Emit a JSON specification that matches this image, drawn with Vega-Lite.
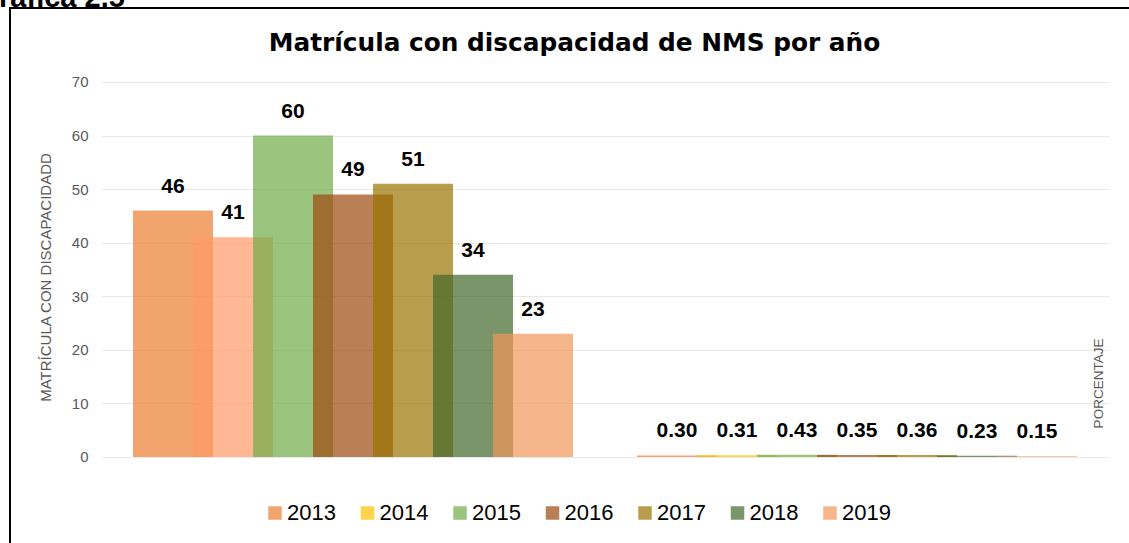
{
  "$schema": "https://vega.github.io/schema/vega-lite/v6.json",
  "width": 1129,
  "height": 545,
  "autosize": {"type": "none"},
  "padding": {"left": 10, "top": 8, "right": -10, "bottom": -10},
  "background": "white",
  "config": {
    "view": {"stroke": "black", "strokeWidth": 2, "fill": "white"},
    "font": "Liberation Sans"
  },
  "title": {
    "text": "Matrícula con discapacidad de NMS por año",
    "font": "DejaVu Sans",
    "fontSize": 24.8,
    "fontWeight": "bold",
    "color": "black",
    "anchor": "middle",
    "offset": -73
  },
  "data": {
    "values": [
      {"group": "Matrícula", "year": "2013", "value": 46},
      {"group": "Matrícula", "year": "2014", "value": 41},
      {"group": "Matrícula", "year": "2015", "value": 60},
      {"group": "Matrícula", "year": "2016", "value": 49},
      {"group": "Matrícula", "year": "2017", "value": 51},
      {"group": "Matrícula", "year": "2018", "value": 34},
      {"group": "Matrícula", "year": "2019", "value": 23},
      {"group": "Porcentaje", "year": "2013", "value": 0.30},
      {"group": "Porcentaje", "year": "2014", "value": 0.31},
      {"group": "Porcentaje", "year": "2015", "value": 0.43},
      {"group": "Porcentaje", "year": "2016", "value": 0.35},
      {"group": "Porcentaje", "year": "2017", "value": 0.36},
      {"group": "Porcentaje", "year": "2018", "value": 0.23},
      {"group": "Porcentaje", "year": "2019", "value": 0.15}
    ]
  },
  "encoding": {
    "x": {
      "field": "group",
      "type": "nominal",
      "scale": {"domain": ["Matrícula", "Porcentaje"], "range": [91, 1099], "paddingInner": 0, "paddingOuter": 0},
      "axis": {
        "orient": "top",
        "labels": false,
        "ticks": false,
        "domain": false,
        "grid": false,
        "title": "Gráfica 2.5",
        "titleFont": "Liberation Sans",
        "titleFontSize": 29,
        "titleFontWeight": "bold",
        "titleColor": "black",
        "titleAnchor": "start",
        "titleAlign": "left",
        "titleAngle": 0,
        "titleBaseline": "alphabetic",
        "titleX": -34,
        "titleY": -2
      }
    },
    "xOffset": {
      "field": "year",
      "type": "nominal",
      "scale": {"domain": ["2013", "2014", "2015", "2016", "2017", "2018", "2019"], "paddingInner": 0, "paddingOuter": 0.7}
    }
  },
  "layer": [
    {
      "mark": {"type": "bar", "width": 80, "opacity": 0.7},
      "encoding": {
        "y": {
          "field": "value",
          "type": "quantitative",
          "stack": null,
          "scale": {"domain": [-17.92, 83.813], "nice": false, "zero": false},
          "axis": {
            "orient": "left",
            "values": [0, 10, 20, 30, 40, 50, 60, 70],
            "offset": -90,
            "ticks": false,
            "domain": false,
            "grid": true,
            "gridColor": "#E8E8E8",
            "gridWidth": 1,
            "labelFont": "Liberation Sans",
            "labelFontSize": 15,
            "labelColor": "#595959",
            "labelPadding": 12,
            "title": "MATRÍCULA CON DISCAPACIDADD",
            "titleFont": "Liberation Sans",
            "titleFontSize": 15,
            "titleFontWeight": "normal",
            "titleColor": "#595959",
            "titleX": -47,
            "titleY": 269
          }
        },
        "color": {
          "condition": {"test": "datum.group === 'Matrícula' && datum.year === '2014'", "value": "#FF9966"},
          "field": "year",
          "type": "nominal",
          "scale": {
            "domain": ["2013", "2014", "2015", "2016", "2017", "2018", "2019"],
            "range": ["#ED7D31", "#FFC000", "#70AD47", "#9E480E", "#997300", "#43682B", "#F1975A"]
          },
          "legend": {
            "orient": "none",
            "legendX": 254,
            "legendY": 494,
            "direction": "horizontal",
            "columns": 7,
            "title": null,
            "symbolType": "square",
            "symbolSize": 182,
            "symbolOpacity": 0.7,
            "symbolStrokeWidth": 0,
            "labelFont": "Liberation Sans",
            "labelFontSize": 22,
            "labelColor": "black",
            "labelOffset": 1,
            "columnPadding": 20.5
          }
        }
      }
    },
    {
      "transform": [{"filter": "datum.group === 'Matrícula'"}],
      "mark": {"type": "text", "font": "Liberation Sans", "fontSize": 21, "fontWeight": "bold", "color": "black", "baseline": "middle", "dy": -24},
      "encoding": {
        "y": {
          "field": "value",
          "type": "quantitative",
          "stack": null,
          "scale": {"domain": [-17.92, 83.813], "nice": false, "zero": false},
          "axis": {
            "orient": "right",
            "labels": false,
            "ticks": false,
            "domain": false,
            "grid": false,
            "title": "PORCENTAJE",
            "titleFont": "Liberation Sans",
            "titleFontSize": 13.5,
            "titleFontWeight": "normal",
            "titleColor": "#595959",
            "titleAngle": 270,
            "titleAlign": "center",
            "titleBaseline": "middle",
            "titleX": -41,
            "titleY": 375
          }
        },
        "text": {"field": "value", "type": "quantitative", "format": "d"}
      }
    },
    {
      "transform": [{"filter": "datum.group === 'Porcentaje'"}],
      "mark": {"type": "text", "font": "Liberation Sans", "fontSize": 21, "fontWeight": "bold", "color": "black", "baseline": "middle", "dy": -24},
      "encoding": {
        "y": {
          "field": "value",
          "type": "quantitative",
          "stack": null,
          "scale": {"domain": [-17.92, 83.813], "nice": false, "zero": false},
          "axis": null
        },
        "text": {"field": "value", "type": "quantitative", "format": ".2f"}
      }
    }
  ],
  "resolve": {"axis": {"y": "independent"}}
}
